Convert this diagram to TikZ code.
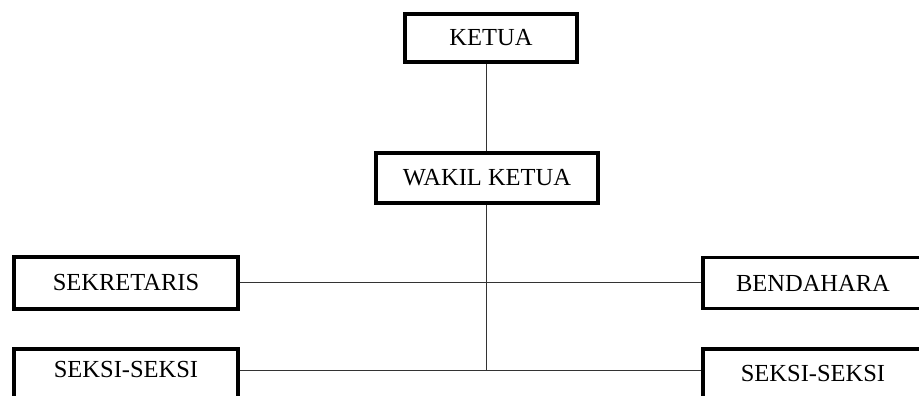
\documentclass[tikz,border=0pt]{standalone}
\usepackage{fontspec}
\setmainfont{Liberation Serif}
\begin{document}
\begin{tikzpicture}[x=1pt,y=-1pt,
  orgbox/.style={draw=black, line width=3.2pt, inner sep=0pt, font=\fontsize{24.5}{29}\selectfont},
  lbl/.style={font=\fontsize{24.5}{29}\selectfont, inner sep=0pt},
  link/.style={draw=black!80, line width=1pt}]
\useasboundingbox (0,0) rectangle (919,396);
\clip (0,0) rectangle (919,396);
\node[orgbox, minimum width=172pt, minimum height=48pt] (ketua) at (491,38) {KETUA};
\node[orgbox, minimum width=222pt, minimum height=50pt] (wakil) at (487,178) {WAKIL KETUA};
\node[orgbox, minimum width=224pt, minimum height=52pt] (sek) at (126,283) {SEKRETARIS};
\node[orgbox, minimum width=224pt, minimum height=51pt, label={[lbl,xshift=-2pt]center:BENDAHARA}] (ben) at (815,283) {};
\node[orgbox, minimum width=224pt, minimum height=53pt, label={[lbl,yshift=6pt]center:SEKSI-SEKSI}] (s1) at (126,375.5) {};
\node[orgbox, minimum width=224pt, minimum height=53pt, label={[lbl,xshift=-2pt,yshift=2pt]center:SEKSI-SEKSI}] (s2) at (815,375.5) {};
\coordinate (j1) at (486,282);
\coordinate (j2) at (486,370);
\draw[link] (ketua.south -| j1) -- (wakil.north -| j1);
\draw[link] (wakil.south -| j1) -- (j2);
\draw[link] (sek.east |- j1) -- (ben.west |- j1);
\draw[link] (s1.east |- j2) -- (s2.west |- j2);
\end{tikzpicture}
\end{document}
